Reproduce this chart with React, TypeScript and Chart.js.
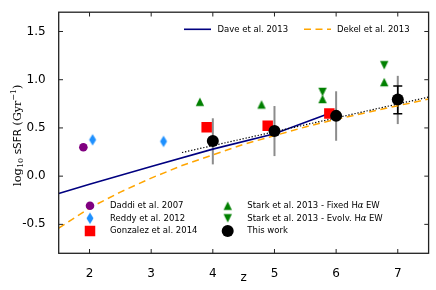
import React, { useEffect, useRef } from 'react';
import { Chart, registerables } from 'chart.js';
Chart.register(...registerables);

// ---- data ----
const daddiZ = [1.9];
const daddiSSFR = [0.3];
const reddyZ = [2.05, 3.2];
const reddySSFR = [0.377, 0.36];
const gonzalezZ = [3.9, 4.89, 5.89];
const gonzalezSSFR = [0.506, 0.523, 0.649];
const starkFixedZ = [3.79, 4.79, 5.78, 6.78];
const starkFixedSSFR = [0.771, 0.743, 0.8, 0.975];
const starkEvolvZ = [5.78, 6.78];
const starkEvolvSSFR = [0.873, 1.15];
const thisWorkZ = [4, 5, 6, 7];
const thisWorkSSFR = [0.365, 0.468, 0.625, 0.795];
const thisWorkErrLow = [0.122, 0.208, 0.367, 0.54];
const thisWorkErrHigh = [0.6, 0.727, 0.88, 1.04];
const capErrZ = [7];
const capErrLow = [0.646];
const capErrHigh = [0.934];
const daveZ = [1.5, 2, 3, 4, 5, 5.95];
const daveSSFR = [-0.18, -0.085, 0.1, 0.28, 0.44, 0.665];
const dekelZ = [1.5, 2, 2.5, 3, 3.5, 4, 4.5, 5, 5.5, 6, 6.5, 7, 7.5];
const dekelSSFR = [-0.54, -0.33, -0.165, -0.02, 0.11, 0.22, 0.33, 0.42, 0.51, 0.59, 0.66, 0.73, 0.8];
const fitZ = [3.5, 7.5];
const fitSSFR = [0.245, 0.82];
const xTicks = [2, 3, 4, 5, 6, 7];
const yTicks = [-0.5, 0, 0.5, 1.0, 1.5];

const SANS = '"DejaVu Sans"';
const SERIF = '"DejaVu Serif"';
const DASH = [7, 4.5];

const pts = (xs: number[], ys: number[]) => xs.map((x, i) => ({ x, y: ys[i] }));

function marker(kind: 'tu' | 'td' | 'diamond', color: string): HTMLCanvasElement {
  const c = document.createElement('canvas');
  const s = 14;
  c.width = s;
  c.height = s;
  const g = c.getContext('2d')!;
  g.fillStyle = color;
  const m = s / 2;
  g.beginPath();
  if (kind === 'tu') {
    g.moveTo(m, m - 4.2);
    g.lineTo(m + 4.2, m + 4.2);
    g.lineTo(m - 4.2, m + 4.2);
  } else if (kind === 'td') {
    g.moveTo(m, m + 4.2);
    g.lineTo(m + 4.2, m - 4.2);
    g.lineTo(m - 4.2, m - 4.2);
  } else {
    g.moveTo(m, m - 5.8);
    g.lineTo(m + 3.5, m);
    g.lineTo(m, m + 5.8);
    g.lineTo(m - 3.5, m);
  }
  g.closePath();
  g.fill();
  return c;
}

export default function App() {
  const ref = useRef<HTMLCanvasElement>(null);
  useEffect(() => {
    const triUp = marker('tu', '#008000');
    const triDown = marker('td', '#008000');
    const diamond = marker('diamond', '#1E90FF');

    const decor = {
      id: 'decor',
      beforeDatasetsDraw(chart: any) {
        const { ctx, scales } = chart;
        const xs = scales.x, ys = scales.y;
        ctx.save();
        ctx.strokeStyle = '#8c8c8c';
        ctx.lineWidth = 2;
        thisWorkZ.forEach((z, i) => {
          const x = xs.getPixelForValue(z);
          ctx.beginPath();
          ctx.moveTo(x, ys.getPixelForValue(thisWorkErrLow[i]));
          ctx.lineTo(x, ys.getPixelForValue(thisWorkErrHigh[i]));
          ctx.stroke();
        });
        ctx.strokeStyle = '#000';
        ctx.lineWidth = 1.5;
        capErrZ.forEach((z, i) => {
          const x = xs.getPixelForValue(z);
          const y1 = ys.getPixelForValue(capErrLow[i]);
          const y2 = ys.getPixelForValue(capErrHigh[i]);
          ctx.beginPath();
          ctx.moveTo(x, y1);
          ctx.lineTo(x, y2);
          ctx.moveTo(x - 4.5, y1);
          ctx.lineTo(x + 4.5, y1);
          ctx.moveTo(x - 4.5, y2);
          ctx.lineTo(x + 4.5, y2);
          ctx.stroke();
        });
        ctx.restore();
      },
      afterDraw(chart: any) {
        const { ctx, chartArea: a, scales } = chart;
        const xs = scales.x, ys = scales.y;
        ctx.save();
        // border
        ctx.strokeStyle = '#222';
        ctx.lineWidth = 1.3;
        ctx.strokeRect(a.left, a.top, a.right - a.left, a.bottom - a.top);
        // inward ticks
        ctx.lineWidth = 1;
        const tl = 4.3;
        ctx.beginPath();
        xTicks.forEach((v) => {
          const x = xs.getPixelForValue(v);
          ctx.moveTo(x, a.bottom);
          ctx.lineTo(x, a.bottom - tl);
          ctx.moveTo(x, a.top);
          ctx.lineTo(x, a.top + tl);
        });
        yTicks.forEach((v) => {
          const y = ys.getPixelForValue(v);
          ctx.moveTo(a.left, y);
          ctx.lineTo(a.left + tl, y);
          ctx.moveTo(a.right, y);
          ctx.lineTo(a.right - tl, y);
        });
        ctx.stroke();

        // legends
        ctx.font = `8.5px ${SANS}`;
        ctx.fillStyle = '#000';
        ctx.textBaseline = 'middle';
        ctx.textAlign = 'left';
        // upper legend
        const ly = 29.3;
        ctx.strokeStyle = '#000080';
        ctx.lineWidth = 1.6;
        ctx.beginPath();
        ctx.moveTo(184, ly);
        ctx.lineTo(211, ly);
        ctx.stroke();
        ctx.fillText('Dave et al. 2013', 217.5, ly);
        ctx.strokeStyle = '#FFA500';
        ctx.setLineDash(DASH);
        ctx.beginPath();
        ctx.moveTo(304, ly);
        ctx.lineTo(331, ly);
        ctx.stroke();
        ctx.setLineDash([]);
        ctx.fillText('Dekel et al. 2013', 337, ly);

        // lower legend
        const rows = [205.7, 218.3, 231];
        const c1 = 90, t1 = 110, c2 = 227.7, t2 = 247.3;
        ctx.fillStyle = '#800080';
        ctx.beginPath();
        ctx.arc(c1, rows[0], 4.3, 0, Math.PI * 2);
        ctx.fill();
        ctx.drawImage(diamond, c1 - 7, rows[1] - 7);
        ctx.fillStyle = '#FF0000';
        ctx.fillRect(c1 - 5.25, rows[2] - 5.25, 10.5, 10.5);
        ctx.drawImage(triUp, c2 - 7, rows[0] - 7);
        ctx.drawImage(triDown, c2 - 7, rows[1] - 7);
        ctx.fillStyle = '#000';
        ctx.beginPath();
        ctx.arc(c2, rows[2], 6, 0, Math.PI * 2);
        ctx.fill();
        ctx.fillText('Daddi et al. 2007', t1, rows[0]);
        ctx.fillText('Reddy et al. 2012', t1, rows[1]);
        ctx.fillText('Gonzalez et al. 2014', t1, rows[2]);
        const halpha = (pre: string, y: number) => {
          let x = t2;
          ctx.font = `8.5px ${SANS}`;
          ctx.fillText(pre, x, y);
          x += ctx.measureText(pre).width;
          ctx.fillText('H', x, y);
          x += ctx.measureText('H').width;
          ctx.font = `italic 8.5px ${SERIF}`;
          ctx.fillText('α', x, y);
          x += ctx.measureText('α').width + 2.4;
          ctx.font = `8.5px ${SANS}`;
          ctx.fillText('EW', x, y);
        };
        halpha('Stark et al. 2013 - Fixed ', rows[0]);
        halpha('Stark et al. 2013 - Evolv. ', rows[1]);
        ctx.font = `8.5px ${SANS}`;
        ctx.fillText('This work', t2, rows[2]);

        // x title
        ctx.font = `12px ${SANS}`;
        ctx.textAlign = 'center';
        ctx.textBaseline = 'alphabetic';
        ctx.fillText('z', (a.left + a.right) / 2, 280.5);

        // y title
        ctx.translate(20.8, 186);
        ctx.rotate(-Math.PI / 2);
        ctx.textAlign = 'left';
        let u = 0;
        const piece = (t: string, font: string, dy = 0) => {
          ctx.font = font;
          ctx.fillText(t, u, dy);
          u += ctx.measureText(t).width;
        };
        piece('log', `11.5px ${SERIF}`);
        piece('10', `8px ${SERIF}`, 2.5);
        u += 3.5;
        piece('sSFR', `10.5px ${SANS}`);
        u += 3.5;
        piece('(Gyr', `11px ${SERIF}`);
        piece('−1', `8px ${SERIF}`, -5);
        piece(')', `11px ${SERIF}`);
        ctx.restore();
      },
    };

    const chart = new Chart(ref.current!, {
      type: 'scatter',
      data: {
        datasets: [
          {
            label: 'This work',
            data: pts(thisWorkZ, thisWorkSSFR),
            pointStyle: 'circle',
            pointRadius: 6,
            backgroundColor: '#000',
            borderColor: '#000',
            borderWidth: 0,
            order: 0,
          },
          {
            label: 'Stark et al. 2013 - Evolv. Hα EW',
            data: pts(starkEvolvZ, starkEvolvSSFR),
            pointStyle: triDown,
            pointRadius: 5,
            order: 1,
          },
          {
            label: 'Stark et al. 2013 - Fixed Hα EW',
            data: pts(starkFixedZ, starkFixedSSFR),
            pointStyle: triUp,
            pointRadius: 5,
            order: 2,
          },
          {
            label: 'Gonzalez et al. 2014',
            data: pts(gonzalezZ, gonzalezSSFR),
            pointStyle: 'rect',
            pointRadius: 7.4,
            backgroundColor: '#FF0000',
            borderColor: '#FF0000',
            borderWidth: 0,
            order: 3,
          },
          {
            label: 'Reddy et al. 2012',
            data: pts(reddyZ, reddySSFR),
            pointStyle: diamond,
            pointRadius: 6,
            order: 4,
          },
          {
            label: 'Daddi et al. 2007',
            data: pts(daddiZ, daddiSSFR),
            pointStyle: 'circle',
            pointRadius: 4.3,
            backgroundColor: '#800080',
            borderColor: '#800080',
            borderWidth: 0,
            order: 5,
          },
          {
            type: 'line',
            label: 'fit',
            data: pts(fitZ, fitSSFR),
            borderColor: '#000',
            borderWidth: 1.2,
            borderDash: [1.3, 1.8],
            pointRadius: 0,
            order: 6,
          } as any,
          {
            type: 'line',
            label: 'Dave et al. 2013',
            data: pts(daveZ, daveSSFR),
            borderColor: '#000080',
            borderWidth: 1.6,
            pointRadius: 0,
            order: 7,
          } as any,
          {
            type: 'line',
            label: 'Dekel et al. 2013',
            data: pts(dekelZ, dekelSSFR),
            borderColor: '#FFA500',
            borderWidth: 1.5,
            borderDash: DASH,
            pointRadius: 0,
            order: 8,
          } as any,
        ],
      },
      options: {
        animation: false,
        responsive: false,
        events: [],
        layout: { padding: { top: 7.3, right: 7.3, left: 0, bottom: 0 } },
        plugins: { legend: { display: false }, tooltip: { enabled: false } },
        scales: {
          x: {
            type: 'linear',
            min: 1.5,
            max: 7.5,
            grid: { display: false },
            border: { display: false },
            ticks: {
              color: '#000',
              font: { size: 12, family: SANS },
              padding: 5,
              maxRotation: 0,
              callback: (v: any) => String(v),
            },
            afterBuildTicks: (s: any) => {
              s.ticks = xTicks.map((v) => ({ value: v }));
            },
            afterFit: (s: any) => {
              s.height = 36.7;
            },
          },
          y: {
            type: 'linear',
            min: -0.8,
            max: 1.7,
            grid: { display: false },
            border: { display: false },
            ticks: {
              color: '#000',
              font: { size: 12, family: SANS },
              padding: 5,
              callback: (v: any) => Number(v).toFixed(1),
            },
            afterBuildTicks: (s: any) => {
              s.ticks = yTicks.map((v) => ({ value: v }));
            },
            afterFit: (s: any) => {
              s.width = 58.7;
            },
          },
        },
      },
      plugins: [decor],
    } as any);
    return () => chart.destroy();
  }, []);

  return (
    <div style={{ position: 'fixed', left: 0, top: 0, width: 436, height: 290, background: '#fff' }}>
      <canvas ref={ref} width={436} height={290} style={{ display: 'block' }} />
    </div>
  );
}
